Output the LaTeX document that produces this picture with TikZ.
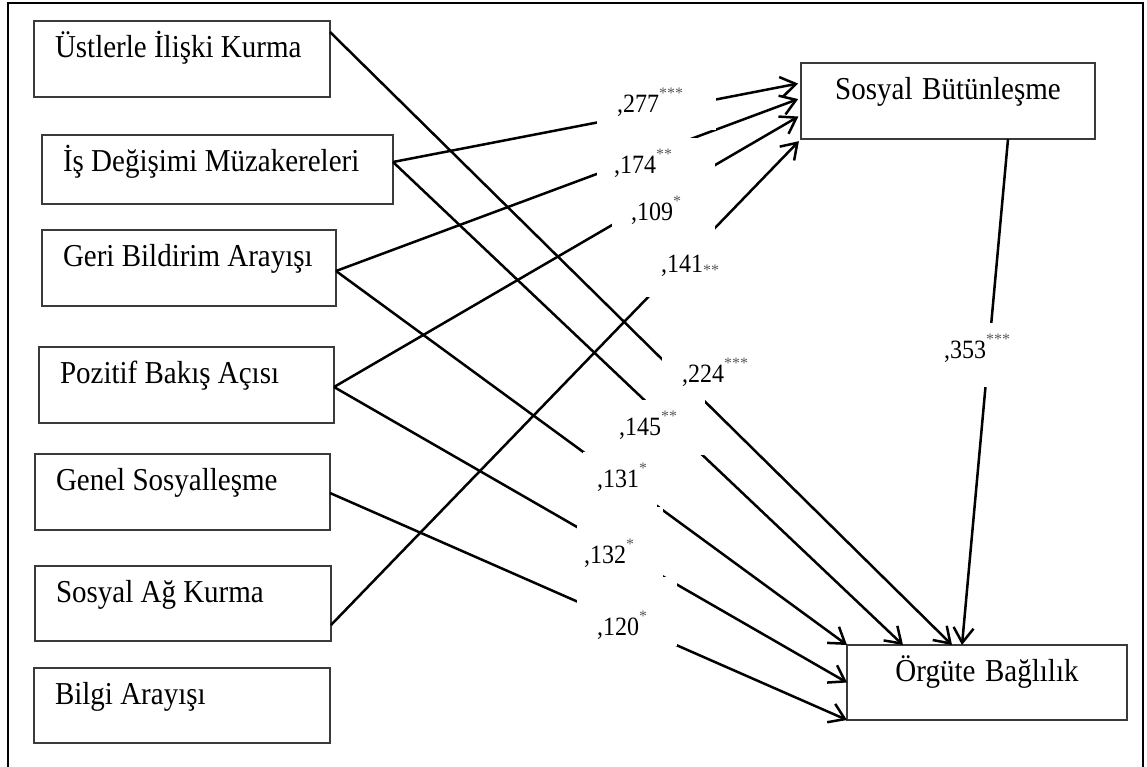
\documentclass[tikz,border=0pt]{standalone}
\usepackage{graphicx}
\usepackage{fontspec}
\setmainfont{Liberation Serif}
\usetikzlibrary{arrows.meta}
\definecolor{stargray}{HTML}{5A5A5A}
\definecolor{boxline}{HTML}{3A3A3A}
% text set slightly taller than wide
\newcommand\tall[1]{\scalebox{1}[1.1]{#1}}
% significance stars: raised, and at the baseline
\newcommand\sigstars[1]{{\color{stargray}\raisebox{14pt}{\fontsize{16}{16}\selectfont #1}}}
\newcommand\lowstars[1]{{\color{stargray}\raisebox{-3pt}{\fontsize{16}{16}\selectfont #1}}}
% left-aligned box text of a fixed width that never wraps
\newcommand\boxtext[2]{\makebox[#1][l]{\tall{#2}}}
\begin{document}
\begin{tikzpicture}[x=1pt,y=-1pt,
  box/.style={draw=boxline, line width=1.2pt, inner xsep=21pt, inner ysep=0pt,
    outer sep=0pt, text height=36pt, anchor=north west,
    font=\fontsize{29}{34}\selectfont},
  leftbox/.style={box},
  rightbox/.style={box, align=center},
  conn/.style={line width=2.5pt, -{Straight Barb[length=15pt,width=20pt]}},
  mask/.style={fill=white},
  coef/.style={anchor=base west, inner sep=0pt, font=\fontsize{24}{27}\selectfont}
]
\useasboundingbox (0,0) rectangle (1147,766);
\clip (0,0) rectangle (1147,766);

% outer frame
\draw[line width=2.6pt] (8,775) -- (8,3) -- (1143,3) -- (1143,775);

% predictor boxes
\node[leftbox, text depth=40pt] (b1) at (34,21)  {\boxtext{254pt}{Üstlerle İlişki Kurma}};
\node[leftbox, text depth=33pt] (b2) at (42,135) {\boxtext{309pt}{İş Değişimi Müzakereleri}};
\node[leftbox, text depth=40pt] (b3) at (42,230) {\boxtext{252pt}{Geri Bildirim Arayışı}};
\node[leftbox, text depth=40pt] (b4) at (39,347) {\boxtext{253pt}{Pozitif Bakış Açısı}};
\node[leftbox, text depth=40pt] (b5) at (35,454) {\boxtext{253pt}{Genel Sosyalleşme}};
\node[leftbox, text depth=39pt] (b6) at (35,566) {\boxtext{254pt}{Sosyal Ağ Kurma}};
\node[leftbox, text depth=39pt] (b7) at (34,668) {\boxtext{254pt}{Bilgi Arayışı}};

% outcome boxes
\node[rightbox, text width=252pt, text depth=40pt] (sb) at (801,63)  {\tall{Sosyal Bütünleşme}};
\node[rightbox, text width=238pt, text depth=39pt] (ob) at (847,645) {\tall{Örgüte Bağlılık}};

% paths to Sosyal Bütünleşme
\draw[conn, shorten >=3pt] ([yshift=7.5pt]b2.east) -- ([yshift=18pt]sb.west);
\draw[conn, shorten >=3pt] ([yshift=-3pt]b3.east) -- ([yshift=3pt]sb.west);
\draw[conn, shorten >=3pt] ([yshift=-2pt]b4.east) -- ([yshift=-14pt]sb.west);
\draw[conn, shorten >=3pt] ([yshift=-21.5pt]b6.east) -- (sb.south west);

% paths to Örgüte Bağlılık
\draw[conn] ([yshift=27pt]b1.east) -- ([xshift=-35pt]ob.north);
\draw[conn] ([yshift=7.5pt]b2.east) -- ([xshift=-84pt]ob.north);
\draw[conn] ([yshift=-3pt]b3.east) -- (ob.north west);
\draw[conn] ([yshift=-2pt]b4.east) -- (ob.west);
\draw[conn] ([yshift=-1pt]b5.east) -- (ob.south west);
\draw[conn] ([xshift=60pt]sb.south) -- ([xshift=-25pt]ob.north);

% white label backgrounds
\fill[mask] (597,77) rectangle (716,130);
\fill[mask] (597,138) rectangle (715,187);
\fill[mask] (612,187) rectangle (715,250);
\fill[mask] (640,250) rectangle (720,297);
\fill[mask] (662,297) rectangle (783,400);
\fill[mask] (600,400) rectangle (705,455);
\fill[mask] (583,452) rectangle (657,507);
\fill[mask] (577,507) rectangle (663,577);
\fill[mask] (577,577) rectangle (677,646);
\fill[mask] (940,323) rectangle (1015,387);

% path coefficients
\node[coef] (k277) at (617,112) {\tall{,277}\sigstars{***}};
\node[coef] (k174) at (614,173) {\tall{,174}\sigstars{**}};
\node[coef] (k109) at (631,220) {\tall{,109}\sigstars{*}};
\node[coef] (k141) at (661,272) {\tall{,141}\lowstars{**}};
\node[coef] (k224) at (682,382) {\tall{,224}\sigstars{***}};
\node[coef] (k145) at (619,435) {\tall{,145}\sigstars{**}};
\node[coef] (k131) at (597,487) {\tall{,131}\sigstars{*}};
\node[coef] (k132) at (584,563) {\tall{,132}\sigstars{*}};
\node[coef] (k120) at (597,635) {\tall{,120}\sigstars{*}};
\node[coef] (k353) at (944,358) {\tall{,353}\sigstars{***}};
\end{tikzpicture}
\end{document}
